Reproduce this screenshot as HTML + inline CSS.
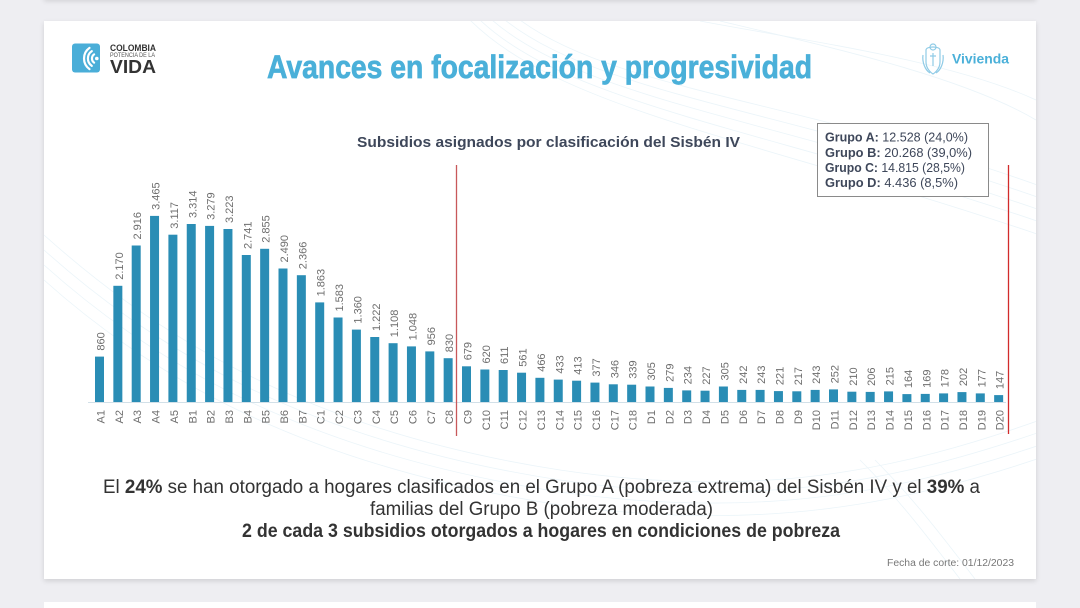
<!DOCTYPE html>
<html>
<head>
<meta charset="utf-8">
<style>
  html,body{margin:0;padding:0;width:1080px;height:608px;overflow:hidden;}
  body{background:#eeeef2;position:relative;font-family:"Liberation Sans",sans-serif;}
  .slide{position:absolute;background:#fff;box-shadow:0 2px 5px rgba(0,0,0,0.13);}
  svg{position:absolute;left:0;top:0;}
</style>
</head>
<body>
<div class="slide" style="left:44px;top:-120px;width:992px;height:119px;"></div>
<div class="slide" style="left:44px;top:21px;width:992px;height:558px;"></div>
<div class="slide" style="left:44px;top:602px;width:992px;height:6px;box-shadow:none;"></div>

<svg width="1080" height="608" viewBox="0 0 1080 608" xmlns="http://www.w3.org/2000/svg" font-family="Liberation Sans, sans-serif">
  <defs>
    <clipPath id="sc"><rect x="44" y="21" width="992" height="558"/></clipPath>
  </defs>
  <!-- faint background waves -->
  <g clip-path="url(#sc)" fill="none" stroke="#d3e8f2" stroke-width="0.8" opacity="0.45">
    <path d="M470 20 C560 110 760 140 1040 235"/>
    <path d="M480 20 C570 105 770 130 1040 222"/>
    <path d="M492 20 C585 100 780 120 1040 210"/>
    <path d="M505 20 C600 95 790 110 1040 198"/>
    <path d="M520 20 C615 90 800 100 1040 186"/>
    <path d="M44 235 C150 330 300 430 560 470 C760 500 900 470 1040 420"/>
    <path d="M44 250 C150 345 300 440 560 480 C760 510 900 480 1040 432"/>
    <path d="M44 265 C150 360 300 452 560 492 C760 520 900 492 1040 445"/>
    <path d="M44 280 C150 375 300 465 560 505 C760 532 900 505 1040 458"/>
    <path d="M860 460 C900 500 930 540 960 579"/>
    <path d="M875 460 C915 500 945 540 975 579"/>
    <path d="M700 21 C800 40 950 60 1036 100"/>
    <path d="M720 21 C820 45 960 75 1036 120"/>
  </g>

  <!-- left logo -->
  <rect x="72" y="43.5" width="28" height="29" rx="3" fill="#4aaed8"/>
  <g fill="none" stroke="#fff" stroke-width="2.2" stroke-linecap="round">
    <path d="M94.1 54.4 A5 5 0 0 0 94.1 62.6"/>
    <path d="M91.8 51.1 A9 9 0 0 0 91.8 65.9"/>
    <path d="M89.5 47.9 A13 13 0 0 0 89.5 69.1"/>
  </g>
  <circle cx="96.8" cy="58.5" r="1.8" fill="#fff"/>
  <text x="110" y="51" font-size="9" font-weight="bold" fill="#333" textLength="46" lengthAdjust="spacingAndGlyphs">COLOMBIA</text>
  <text x="110" y="56.8" font-size="6" fill="#555" textLength="45" lengthAdjust="spacingAndGlyphs">POTENCIA DE LA</text>
  <text x="110" y="73" font-size="18" font-weight="bold" fill="#333" textLength="46" lengthAdjust="spacingAndGlyphs">VIDA</text>

  <!-- title -->
  <text x="267" y="78" font-size="32" font-weight="bold" fill="#4ab0d9" stroke="#4ab0d9" stroke-width="0.7" textLength="545" lengthAdjust="spacingAndGlyphs">Avances en focalización y progresividad</text>

  <!-- right logo -->
  <g fill="none" stroke="#8fcbe6" stroke-width="1.2">
    <path d="M926 50 C926 46 940 46 940 50 L940 62 C940 70 933 74 933 74 C933 74 926 70 926 62 Z"/>
    <circle cx="933" cy="47" r="3"/>
    <path d="M923 55 C922 62 925 70 930 73"/>
    <path d="M943 55 C944 62 941 70 936 73"/>
    <path d="M930 56 L936 56 M933 53 L933 66"/>
  </g>
  <text x="952" y="63.5" font-size="14" font-weight="bold" fill="#4ab0d9" textLength="57" lengthAdjust="spacingAndGlyphs">Vivienda</text>

  <!-- chart title -->
  <text x="357" y="147" font-size="14.5" font-weight="bold" fill="#3e475a" textLength="383" lengthAdjust="spacingAndGlyphs">Subsidios asignados por clasificación del Sisbén IV</text>

  <!-- legend -->
  <rect x="817.5" y="123.5" width="171" height="73" fill="#fff" stroke="#8a8a8a" stroke-width="1"/>
  <g font-size="12.5" fill="#3e475a">
    <text x="825" y="141.7" textLength="143" lengthAdjust="spacingAndGlyphs"><tspan font-weight="bold">Grupo A:</tspan> 12.528 (24,0%)</text>
    <text x="825" y="156.8" textLength="147" lengthAdjust="spacingAndGlyphs"><tspan font-weight="bold">Grupo B:</tspan> 20.268 (39,0%)</text>
    <text x="825" y="171.8" textLength="140" lengthAdjust="spacingAndGlyphs"><tspan font-weight="bold">Grupo C:</tspan> 14.815 (28,5%)</text>
    <text x="825" y="186.8" textLength="133" lengthAdjust="spacingAndGlyphs"><tspan font-weight="bold">Grupo D:</tspan> 4.436 (8,5%)</text>
  </g>

  <!-- baseline -->
  <line x1="88" y1="402.5" x2="1006" y2="402.5" stroke="#d2e0e8" stroke-width="1"/>

  <!-- red lines -->
  <line x1="456.5" y1="165" x2="456.5" y2="436" stroke="#c8585a" stroke-width="1.3"/>
  <line x1="1008.5" y1="165" x2="1008.5" y2="434" stroke="#d22b2b" stroke-width="1.3"/>

  <!-- bars -->
  <g fill="#2a8db5">
    <rect x="95" y="356.6" width="9" height="45.4"/>
    <rect x="113.35" y="285.8" width="9" height="116.2"/>
    <rect x="131.7" y="245.5" width="9" height="156.5"/>
    <rect x="150.05" y="215.9" width="9" height="186.1"/>
    <rect x="168.4" y="234.7" width="9" height="167.3"/>
    <rect x="186.75" y="224.0" width="9" height="178.0"/>
    <rect x="205.1" y="225.9" width="9" height="176.1"/>
    <rect x="223.45" y="229.0" width="9" height="173.0"/>
    <rect x="241.8" y="255.0" width="9" height="147.0"/>
    <rect x="260.15" y="248.8" width="9" height="153.2"/>
    <rect x="278.5" y="268.5" width="9" height="133.5"/>
    <rect x="296.85" y="275.2" width="9" height="126.8"/>
    <rect x="315.2" y="302.4" width="9" height="99.6"/>
    <rect x="333.55" y="317.5" width="9" height="84.5"/>
    <rect x="351.9" y="329.6" width="9" height="72.4"/>
    <rect x="370.25" y="337.0" width="9" height="65.0"/>
    <rect x="388.6" y="343.2" width="9" height="58.8"/>
    <rect x="406.95" y="346.4" width="9" height="55.6"/>
    <rect x="425.3" y="351.4" width="9" height="50.6"/>
    <rect x="443.65" y="358.2" width="9" height="43.8"/>
    <rect x="462.0" y="366.3" width="9" height="35.7"/>
    <rect x="480.35" y="369.5" width="9" height="32.5"/>
    <rect x="498.7" y="370.0" width="9" height="32.0"/>
    <rect x="517.05" y="372.7" width="9" height="29.3"/>
    <rect x="535.4" y="377.8" width="9" height="24.2"/>
    <rect x="553.75" y="379.6" width="9" height="22.4"/>
    <rect x="572.1" y="380.7" width="9" height="21.3"/>
    <rect x="590.45" y="382.6" width="9" height="19.4"/>
    <rect x="608.8" y="384.3" width="9" height="17.7"/>
    <rect x="627.15" y="384.7" width="9" height="17.3"/>
    <rect x="645.5" y="386.5" width="9" height="15.5"/>
    <rect x="663.85" y="387.9" width="9" height="14.1"/>
    <rect x="682.2" y="390.4" width="9" height="11.6"/>
    <rect x="700.55" y="390.7" width="9" height="11.3"/>
    <rect x="718.9" y="386.5" width="9" height="15.5"/>
    <rect x="737.25" y="389.9" width="9" height="12.1"/>
    <rect x="755.6" y="389.9" width="9" height="12.1"/>
    <rect x="773.95" y="391.1" width="9" height="10.9"/>
    <rect x="792.3" y="391.3" width="9" height="10.7"/>
    <rect x="810.65" y="389.9" width="9" height="12.1"/>
    <rect x="829.0" y="389.4" width="9" height="12.6"/>
    <rect x="847.35" y="391.7" width="9" height="10.3"/>
    <rect x="865.7" y="391.9" width="9" height="10.1"/>
    <rect x="884.05" y="391.4" width="9" height="10.6"/>
    <rect x="902.4" y="394.1" width="9" height="7.9"/>
    <rect x="920.75" y="393.9" width="9" height="8.1"/>
    <rect x="939.1" y="393.4" width="9" height="8.6"/>
    <rect x="957.45" y="392.1" width="9" height="9.9"/>
    <rect x="975.8" y="393.4" width="9" height="8.6"/>
    <rect x="994.15" y="395.1" width="9" height="6.9"/>
  </g>

  <!-- value labels -->
  <g font-size="11" fill="#6e6e6e">
    <text transform="translate(104.5,350.6) rotate(-90)">860</text>
    <text transform="translate(122.85,279.8) rotate(-90)">2.170</text>
    <text transform="translate(141.2,239.5) rotate(-90)">2.916</text>
    <text transform="translate(159.55,209.9) rotate(-90)">3.465</text>
    <text transform="translate(177.9,228.7) rotate(-90)">3.117</text>
    <text transform="translate(196.25,218.0) rotate(-90)">3.314</text>
    <text transform="translate(214.6,219.9) rotate(-90)">3.279</text>
    <text transform="translate(232.95,223.0) rotate(-90)">3.223</text>
    <text transform="translate(251.3,249.0) rotate(-90)">2.741</text>
    <text transform="translate(269.65,242.8) rotate(-90)">2.855</text>
    <text transform="translate(288.0,262.5) rotate(-90)">2.490</text>
    <text transform="translate(306.35,269.2) rotate(-90)">2.366</text>
    <text transform="translate(324.7,296.4) rotate(-90)">1.863</text>
    <text transform="translate(343.05,311.5) rotate(-90)">1.583</text>
    <text transform="translate(361.4,323.6) rotate(-90)">1.360</text>
    <text transform="translate(379.75,331.0) rotate(-90)">1.222</text>
    <text transform="translate(398.1,337.2) rotate(-90)">1.108</text>
    <text transform="translate(416.45,340.4) rotate(-90)">1.048</text>
    <text transform="translate(434.8,345.4) rotate(-90)">956</text>
    <text transform="translate(453.15,352.2) rotate(-90)">830</text>
    <text transform="translate(471.5,360.3) rotate(-90)">679</text>
    <text transform="translate(489.85,363.5) rotate(-90)">620</text>
    <text transform="translate(508.2,364.0) rotate(-90)">611</text>
    <text transform="translate(526.55,366.7) rotate(-90)">561</text>
    <text transform="translate(544.9,371.8) rotate(-90)">466</text>
    <text transform="translate(563.25,373.6) rotate(-90)">433</text>
    <text transform="translate(581.6,374.7) rotate(-90)">413</text>
    <text transform="translate(599.95,376.6) rotate(-90)">377</text>
    <text transform="translate(618.3,378.3) rotate(-90)">346</text>
    <text transform="translate(636.65,378.7) rotate(-90)">339</text>
    <text transform="translate(655.0,380.5) rotate(-90)">305</text>
    <text transform="translate(673.35,381.9) rotate(-90)">279</text>
    <text transform="translate(691.7,384.4) rotate(-90)">234</text>
    <text transform="translate(710.05,384.7) rotate(-90)">227</text>
    <text transform="translate(728.4,380.5) rotate(-90)">305</text>
    <text transform="translate(746.75,383.9) rotate(-90)">242</text>
    <text transform="translate(765.1,383.9) rotate(-90)">243</text>
    <text transform="translate(783.45,385.1) rotate(-90)">221</text>
    <text transform="translate(801.8,385.3) rotate(-90)">217</text>
    <text transform="translate(820.15,383.9) rotate(-90)">243</text>
    <text transform="translate(838.5,383.4) rotate(-90)">252</text>
    <text transform="translate(856.85,385.7) rotate(-90)">210</text>
    <text transform="translate(875.2,385.9) rotate(-90)">206</text>
    <text transform="translate(893.55,385.4) rotate(-90)">215</text>
    <text transform="translate(911.9,388.1) rotate(-90)">164</text>
    <text transform="translate(930.25,387.9) rotate(-90)">169</text>
    <text transform="translate(948.6,387.4) rotate(-90)">178</text>
    <text transform="translate(966.95,386.1) rotate(-90)">202</text>
    <text transform="translate(985.3,387.4) rotate(-90)">177</text>
    <text transform="translate(1003.65,389.1) rotate(-90)">147</text>
  </g>

  <!-- category labels -->
  <g font-size="11" fill="#6e6e6e" text-anchor="end">
    <text transform="translate(104.5,410) rotate(-90)">A1</text>
    <text transform="translate(122.85,410) rotate(-90)">A2</text>
    <text transform="translate(141.2,410) rotate(-90)">A3</text>
    <text transform="translate(159.55,410) rotate(-90)">A4</text>
    <text transform="translate(177.9,410) rotate(-90)">A5</text>
    <text transform="translate(196.25,410) rotate(-90)">B1</text>
    <text transform="translate(214.6,410) rotate(-90)">B2</text>
    <text transform="translate(232.95,410) rotate(-90)">B3</text>
    <text transform="translate(251.3,410) rotate(-90)">B4</text>
    <text transform="translate(269.65,410) rotate(-90)">B5</text>
    <text transform="translate(288.0,410) rotate(-90)">B6</text>
    <text transform="translate(306.35,410) rotate(-90)">B7</text>
    <text transform="translate(324.7,410) rotate(-90)">C1</text>
    <text transform="translate(343.05,410) rotate(-90)">C2</text>
    <text transform="translate(361.4,410) rotate(-90)">C3</text>
    <text transform="translate(379.75,410) rotate(-90)">C4</text>
    <text transform="translate(398.1,410) rotate(-90)">C5</text>
    <text transform="translate(416.45,410) rotate(-90)">C6</text>
    <text transform="translate(434.8,410) rotate(-90)">C7</text>
    <text transform="translate(453.15,410) rotate(-90)">C8</text>
    <text transform="translate(471.5,410) rotate(-90)">C9</text>
    <text transform="translate(489.85,410) rotate(-90)">C10</text>
    <text transform="translate(508.2,410) rotate(-90)">C11</text>
    <text transform="translate(526.55,410) rotate(-90)">C12</text>
    <text transform="translate(544.9,410) rotate(-90)">C13</text>
    <text transform="translate(563.25,410) rotate(-90)">C14</text>
    <text transform="translate(581.6,410) rotate(-90)">C15</text>
    <text transform="translate(599.95,410) rotate(-90)">C16</text>
    <text transform="translate(618.3,410) rotate(-90)">C17</text>
    <text transform="translate(636.65,410) rotate(-90)">C18</text>
    <text transform="translate(655.0,410) rotate(-90)">D1</text>
    <text transform="translate(673.35,410) rotate(-90)">D2</text>
    <text transform="translate(691.7,410) rotate(-90)">D3</text>
    <text transform="translate(710.05,410) rotate(-90)">D4</text>
    <text transform="translate(728.4,410) rotate(-90)">D5</text>
    <text transform="translate(746.75,410) rotate(-90)">D6</text>
    <text transform="translate(765.1,410) rotate(-90)">D7</text>
    <text transform="translate(783.45,410) rotate(-90)">D8</text>
    <text transform="translate(801.8,410) rotate(-90)">D9</text>
    <text transform="translate(820.15,410) rotate(-90)">D10</text>
    <text transform="translate(838.5,410) rotate(-90)">D11</text>
    <text transform="translate(856.85,410) rotate(-90)">D12</text>
    <text transform="translate(875.2,410) rotate(-90)">D13</text>
    <text transform="translate(893.55,410) rotate(-90)">D14</text>
    <text transform="translate(911.9,410) rotate(-90)">D15</text>
    <text transform="translate(930.25,410) rotate(-90)">D16</text>
    <text transform="translate(948.6,410) rotate(-90)">D17</text>
    <text transform="translate(966.95,410) rotate(-90)">D18</text>
    <text transform="translate(985.3,410) rotate(-90)">D19</text>
    <text transform="translate(1003.65,410) rotate(-90)">D20</text>
  </g>

  <!-- bottom text -->
  <g font-size="19" fill="#333">
    <text x="103" y="493" textLength="877" lengthAdjust="spacingAndGlyphs">El <tspan font-weight="bold">24%</tspan> se han otorgado a hogares clasificados en el Grupo A (pobreza extrema) del Sisbén IV y el <tspan font-weight="bold">39%</tspan> a</text>
    <text x="370" y="515" textLength="343" lengthAdjust="spacingAndGlyphs">familias del Grupo B (pobreza moderada)</text>
    <text x="242" y="537" font-weight="bold" textLength="598" lengthAdjust="spacingAndGlyphs">2 de cada 3 subsidios otorgados a hogares en condiciones de pobreza</text>
  </g>
  <text x="887" y="566" font-size="10" fill="#777" textLength="127" lengthAdjust="spacingAndGlyphs">Fecha de corte: 01/12/2023</text>
</svg>
</body>
</html>
